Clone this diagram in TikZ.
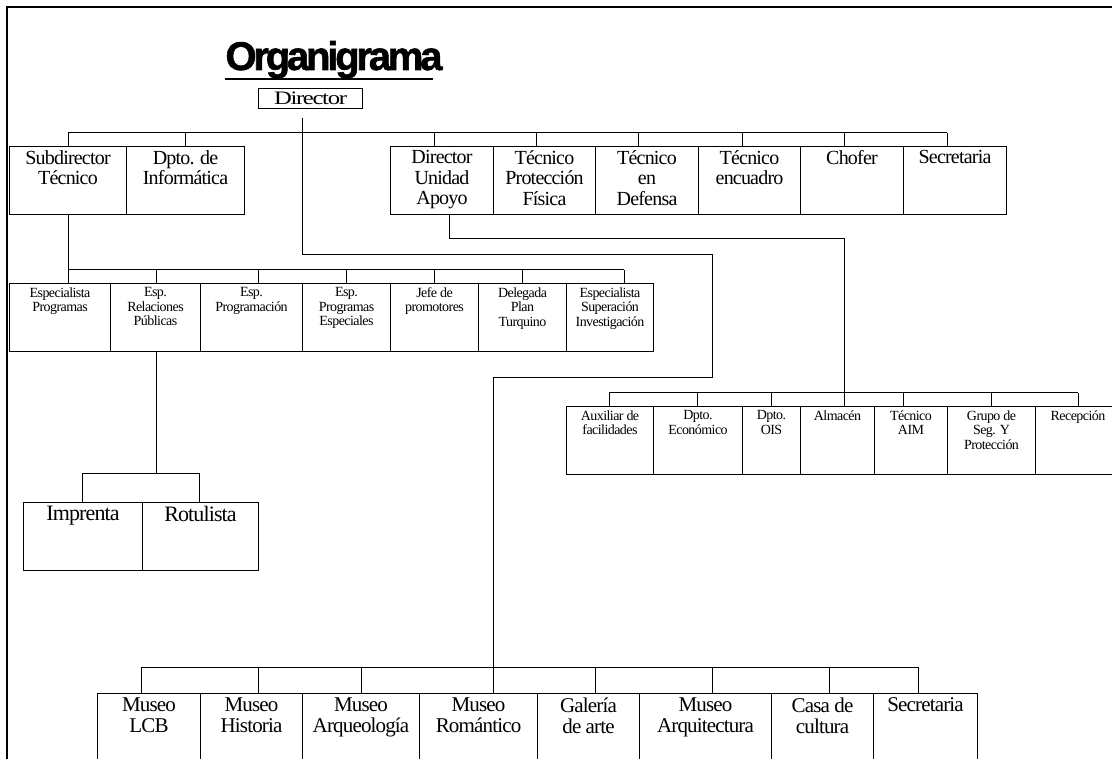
\documentclass[tikz,border=0pt]{standalone}
\usepackage{fontspec}
\setmainfont{Liberation Serif}[LetterSpace=-4]
\newfontfamily\anchofont{Liberation Serif}[FakeStretch=1.3, LetterSpace=-7]
\newfontfamily\titlefont{Liberation Sans}[LetterSpace=-8, FakeBold=1.5]
\usepackage{tikz}

% texto de una caja, pegado arriba
\newcommand{\caja}[3]{\parbox[c][#2pt][t]{#1pt}{\centering\vspace*{4pt}#3}}

\begin{document}
\begin{tikzpicture}[x=1pt, y=-1pt, line width=1pt,
  cargo/.style={draw=black, line width=1pt, inner sep=0pt, anchor=north west,
    font=\fontsize{20}{20.5}\selectfont},
  %
  cargochico/.style={cargo, font=\fontsize{14}{14.5}\selectfont},
  %
  museo/.style={cargo, font=\fontsize{21}{21.5}\selectfont},
  %
  titulo/.style={font=\titlefont\bfseries\fontsize{40}{40}\selectfont, inner sep=0pt}
  ]

  \useasboundingbox (0,0) rectangle (1112,759);
  \clip (0,0) rectangle (1112,759);

  % marco
  \draw [line width=1.5pt] (7,770) -- (7,7) -- (1120,7);

  \begin{scope}
    \node [titulo, anchor=base] (titulo) at (334,70) {Organigrama};
    \draw [line width=2pt] ([yshift=-9pt]titulo.base west) -- ([yshift=-9pt,xshift=-10pt]titulo.base east);
    \node [cargo, font=\anchofont\fontsize{19}{19}\selectfont] (director) at (258,88)
      {\parbox[c][20pt][c]{104pt}{\centering Director}};
  \end{scope}

  %%%%%%%%%%%%%%%%%%%%%%%%%%%%%%% primer nivel
  \begin{scope}
    \node [cargo] (subdir) at (9,146) {\caja{117}{68}{Subdirector\\Técnico}};
    \node [cargo] (informatica) at (126,146) {\caja{118}{68}{Dpto. de\\Informática}};
    \node [cargo] (dirapoyo) at (390,146) {\caja{103}{68}{Director\\Unidad\\Apoyo}};
    \node [cargo] (proteccion) at (493,146) {\caja{102}{68}{Técnico\\Protección\\Física}};
    \node [cargo] (defensa) at (595,146) {\caja{103}{68}{Técnico\\en\\Defensa}};
    \node [cargo] (encuadro) at (698,146) {\caja{102}{68}{Técnico\\encuadro}};
    \node [cargo] (chofer) at (800,146) {\caja{103}{68}{Chofer}};
    \node [cargo] (secretaria) at (903,146) {\caja{103}{68}{Secretaria}};
  \end{scope}

  %%%%%%%%%%%%%%%%%%%%%%%%%%%%%%% especialistas
  \begin{scope}
    \node [cargochico] (especialista) at (9,283) {\caja{101}{68}{Especialista\\Programas}};
    \node [cargochico] (relaciones) at (110,283) {\caja{90}{68}{Esp.\\Relaciones\\Públicas}};
    \node [cargochico] (programacion) at (200,283) {\caja{102}{68}{Esp.\\Programación}};
    \node [cargochico] (especiales) at (302,283) {\caja{88}{68}{Esp.\\Programas\\Especiales}};
    \node [cargochico] (jefe) at (390,283) {\caja{88}{68}{Jefe de\\promotores}};
    \node [cargochico] (delegada) at (478,283) {\caja{88}{68}{Delegada\\Plan\\Turquino}};
    \node [cargochico] (superacion) at (566,283) {\caja{87}{68}{Especialista\\Superación\\Investigación}};
    %
    \node [cargo, font=\fontsize{22}{22}\selectfont] (imprenta) at (23,502) {\caja{119}{68}{Imprenta}};
    \node [cargo, font=\fontsize{22}{22}\selectfont] (rotulista) at (142,502) {\caja{116}{68}{Rotulista}};
  \end{scope}

  %%%%%%%%%%%%%%%%%%%%%%%%%%%%%%% unidad de apoyo
  \begin{scope}
    \node [cargochico] (auxiliar) at (566,406) {\caja{87}{68}{Auxiliar de\\facilidades}};
    \node [cargochico] (economico) at (653,406) {\caja{89}{68}{Dpto.\\Económico}};
    \node [cargochico] (ois) at (742,406) {\caja{58}{68}{Dpto.\\OIS}};
    \node [cargochico] (almacen) at (800,406) {\caja{74}{68}{Almacén}};
    \node [cargochico] (aim) at (874,406) {\caja{73}{68}{Técnico\\AIM}};
    \node [cargochico] (grupo) at (947,406) {\caja{88}{68}{Grupo de\\Seg. Y\\Protección}};
    \node [cargochico] (recepcion) at (1035,406) {\caja{85}{68}{Recepción}};
  \end{scope}

  %%%%%%%%%%%%%%%%%%%%%%%%%%%%%%% museos
  \begin{scope}
    \node [museo] (lcb) at (97,693) {\caja{103}{80}{Museo\\LCB}};
    \node [museo] (historia) at (200,693) {\caja{102}{80}{Museo\\Historia}};
    \node [museo] (arqueologia) at (302,693) {\caja{117}{80}{Museo\\Arqueología}};
    \node [museo] (romantico) at (419,693) {\caja{118}{80}{Museo\\Romántico}};
    \node [museo] (galeria) at (537,693) {\caja{102}{80}{Galería\\de arte}};
    \node [museo] (arquitectura) at (639,693) {\caja{132}{80}{Museo\\Arquitectura}};
    \node [museo] (casa) at (771,693) {\caja{102}{80}{Casa de\\cultura}};
    \node [museo] (secretaria2) at (873,693) {\caja{104}{80}{Secretaria}};
  \end{scope}

  %%%%%%%%%%%%%%%%%%%%%%%%%%%%%%% lineas
  \begin{scope}
    \coordinate (b1) at (68,133);
    \coordinate (b2) at (68,270);
    \coordinate (b3) at (82,473);
    \coordinate (b4) at (609,393);
    \coordinate (b5) at (141,667);

    \draw (b1) -- (947,133);
    \foreach \x/\n in {68/subdir, 185/informatica, 434/dirapoyo, 536/proteccion,
      638/defensa, 742/encuadro, 844/chofer, 947/secretaria}
      \draw (\x,133) -- (\x,0 |- \n.north);

    \draw (b2) -- (624,270);
    \draw (b2) -- (68,0 |- subdir.south);
    \foreach \x/\n in {68/especialista, 156/relaciones, 258/programacion, 346/especiales,
      434/jefe, 522/delegada, 624/superacion}
      \draw (\x,270) -- (\x,0 |- \n.north);

    \draw (b3) -- (199,473);
    \draw (156,473) -- (156,0 |- relaciones.south);
    \foreach \x/\n in {82/imprenta, 199/rotulista}
      \draw (\x,473) -- (\x,0 |- \n.north);

    \draw (449,0 |- dirapoyo.south) |- (844,239) -- (844,393);
    \draw (b4) -- (1078,393);
    \foreach \x/\n in {609/auxiliar, 697/economico, 771/ois, 844/almacen,
      903/aim, 991/grupo, 1078/recepcion}
      \draw (\x,393) -- (\x,0 |- \n.north);

    \draw ([yshift=-9pt]director.south -| 302,0) -- (302,255) -| (712,378) -| (493,667);
    \draw (b5) -- (918,667);
    \foreach \x/\n in {141/lcb, 258/historia, 361/arqueologia, 493/romantico,
      595/galeria, 712/arquitectura, 829/casa, 918/secretaria2}
      \draw (\x,667) -- (\x,0 |- \n.north);
  \end{scope}

\end{tikzpicture}
\end{document}
